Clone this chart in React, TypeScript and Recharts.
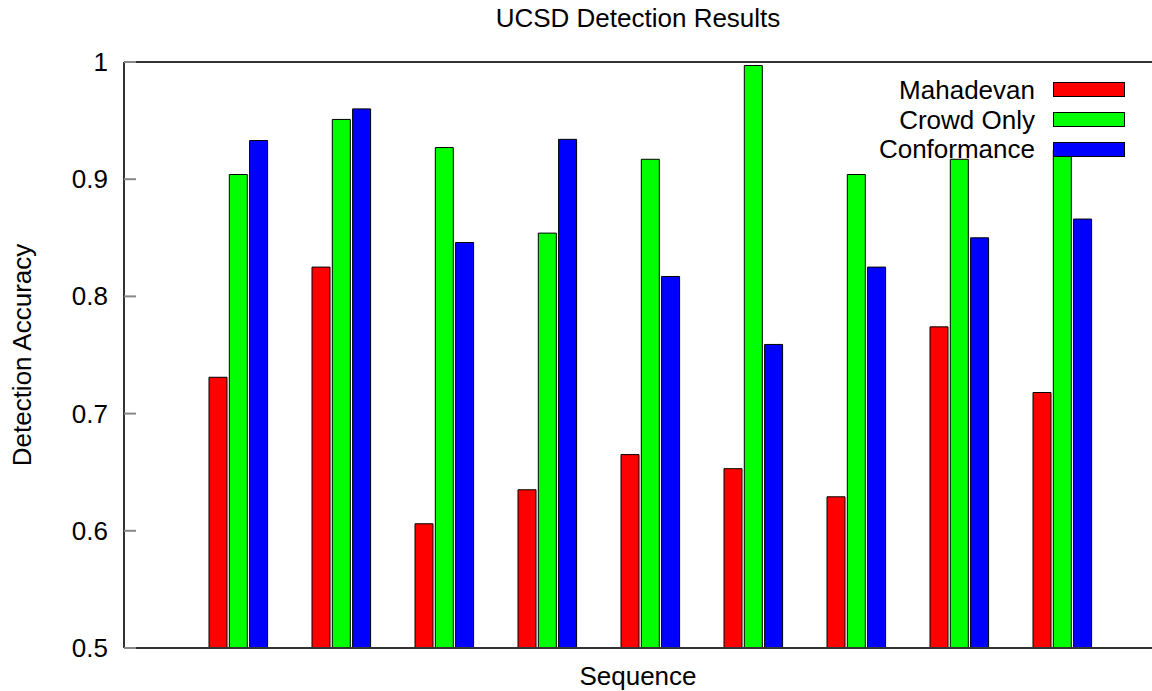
import React from "react";
import { BarChart, Bar, XAxis, YAxis, Legend } from "recharts";

const sequences = ["1", "2", "3", "4", "5", "6", "7", "8", "9"];
const mahadevan = [0.731, 0.825, 0.606, 0.635, 0.665, 0.653, 0.629, 0.774, 0.718];
const crowdOnly = [0.904, 0.951, 0.927, 0.854, 0.917, 0.997, 0.904, 0.917, 0.925];
const conformance = [0.933, 0.96, 0.846, 0.934, 0.817, 0.759, 0.825, 0.85, 0.866];
const yTicks = [0.5, 0.6, 0.7, 0.8, 0.9, 1];

const series = [
  { key: "mahadevan", name: "Mahadevan", color: "#ff0000" },
  { key: "crowdOnly", name: "Crowd Only", color: "#00ff00" },
  { key: "conformance", name: "Conformance", color: "#0000ff" },
];

const data = sequences.map((seq, i) => ({
  seq,
  mahadevan: mahadevan[i],
  crowdOnly: crowdOnly[i],
  conformance: conformance[i],
}));

const WIDTH = 1152;
const HEIGHT = 691;
const PLOT_LEFT = 124;
const PLOT_RIGHT = 1152;
const TICK_LEN = 12;
const X_PADDING = { left: 63, right: 38 };
const FONT = "'Liberation Sans', Arial, sans-serif";
const FRAME = "#333333";

// left axis: label outside, tick mark pointing into the plot
const LeftTick = (props: any) => {
  const { y, payload } = props;
  return (
    <g>
      <line x1={PLOT_LEFT} x2={PLOT_LEFT + TICK_LEN} y1={y} y2={y} stroke="#888" strokeWidth={2} />
      <text x={PLOT_LEFT - 16} y={y} dy={9} textAnchor="end" fontSize={26} fill="#000">
        {String(payload.value)}
      </text>
    </g>
  );
};

// right axis: only the inward tick mark
const RightTick = (props: any) => {
  const { y } = props;
  return <line x1={PLOT_RIGHT - TICK_LEN} x2={PLOT_RIGHT} y1={y} y2={y} stroke="#888" strokeWidth={2} />;
};

const renderLegend = () => (
  <div style={{ fontFamily: FONT }}>
    {series.map((s) => (
      <div
        key={s.key}
        style={{ display: "flex", alignItems: "center", justifyContent: "flex-end", height: 29.75 }}
      >
        <span style={{ fontSize: 26, lineHeight: "30px", color: "#000" }}>{s.name}</span>
        <span
          style={{
            display: "inline-block",
            width: 70,
            height: 13,
            marginLeft: 18,
            background: s.color,
            border: "1px solid #000",
          }}
        />
      </div>
    ))}
  </div>
);

export default function App() {
  return (
    <div style={{ position: "absolute", left: 0, top: 0, width: WIDTH, height: HEIGHT, background: "#fff", fontFamily: FONT }}>
      <BarChart
        width={WIDTH}
        height={HEIGHT}
        data={data}
        margin={{ top: 0, right: 0, bottom: 0, left: 0 }}
        barSize={18}
        barGap={2.3}
      >
        <XAxis
          xAxisId="top"
          orientation="top"
          dataKey="seq"
          height={62}
          tick={false}
          tickLine={false}
          axisLine={{ stroke: FRAME, strokeWidth: 2 }}
          padding={X_PADDING}
          label={{ value: "UCSD Detection Results", position: "insideTop", offset: 9, fontSize: 26, fill: "#000" }}
        />
        <XAxis
          dataKey="seq"
          height={43}
          tick={false}
          tickLine={false}
          axisLine={{ stroke: FRAME, strokeWidth: 2 }}
          padding={X_PADDING}
          label={{ value: "Sequence", position: "insideBottom", offset: 6, fontSize: 26, fill: "#000" }}
        />
        <YAxis
          domain={[0.5, 1]}
          ticks={yTicks}
          interval={0}
          width={124}
          tick={<LeftTick />}
          tickLine={false}
          axisLine={{ stroke: FRAME, strokeWidth: 2 }}
          label={{
            value: "Detection Accuracy",
            angle: -90,
            position: "insideLeft",
            offset: 22,
            fontSize: 26,
            fill: "#000",
            style: { textAnchor: "middle" },
          }}
        />
        <YAxis
          yAxisId="right"
          orientation="right"
          domain={[0.5, 1]}
          ticks={yTicks}
          interval={0}
          width={0}
          tick={<RightTick />}
          tickLine={false}
          axisLine={{ stroke: FRAME, strokeWidth: 2 }}
        />
        {series.map((s) => (
          <Bar
            key={s.key}
            dataKey={s.key}
            name={s.name}
            fill={s.color}
            stroke="#000"
            strokeWidth={1}
            isAnimationActive={false}
          />
        ))}
        <Legend
          layout="horizontal"
          verticalAlign="middle"
          align="center"
          wrapperStyle={{ top: 75, right: 27, width: "auto" }}
          content={renderLegend}
        />
      </BarChart>
    </div>
  );
}
